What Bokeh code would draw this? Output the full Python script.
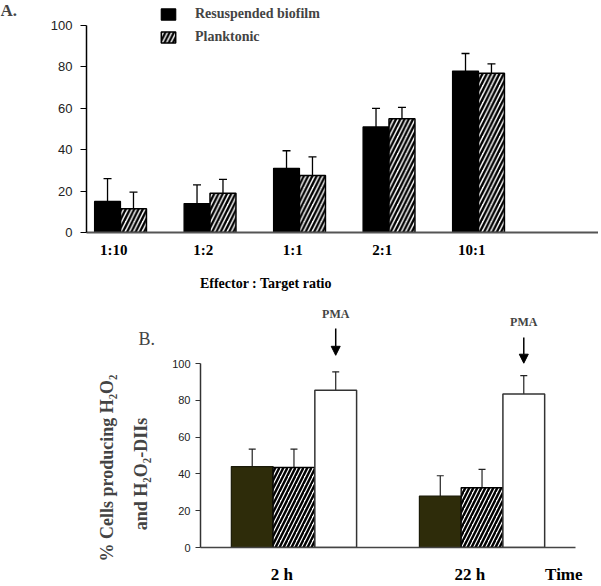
import numpy as np
from bokeh.plotting import figure
from bokeh.models import (Range1d, FixedTicker, Whisker, ColumnDataSource, Label,
                          Arrow, NormalHead, Legend, LegendItem, TeeHead, LinearAxis)
from bokeh.layouts import column, row
from bokeh.embed import file_html
from bokeh.resources import INLINE

# ---------------- data ----------------
ratios = ["1:10", "1:2", "1:1", "2:1", "10:1"]
biofilm = [15, 14, 31, 51, 78]
biofilm_err = [11, 9, 8.5, 9, 8.5]
planktonic = [11.5, 19, 27.5, 55, 77]
planktonic_err = [8, 6.7, 9, 5.5, 4.5]

times = ["2 h", "22 h"]
b_dark = [44, 28]
b_dark_err = [9.5, 11]
b_hatch = [43.5, 32.5]
b_hatch_err = [10, 10]
b_pma = [85.5, 83.5]
b_pma_err = [10, 10]
pma_label = ["PMA", "PMA"]
pma_text_y = [127.2, 122.4]
pma_arrow_from = [119.1, 114.2]
pma_arrow_to = [104.5, 100.2]

SERIF = "Liberation Serif"
SANS = "Liberation Sans"


def text_panel(w, h):
    f = figure(width=w, height=h, output_backend="svg", toolbar_location=None,
               x_range=Range1d(0, w), y_range=Range1d(0, h),
               x_axis_location=None, y_axis_location=None,
               min_border=0, min_border_left=0, min_border_right=0,
               min_border_top=0, min_border_bottom=0)
    f.frame_align = False
    f.outline_line_color = None
    f.grid.visible = False
    return f


# ---------------- panel A ----------------
HA = 300
aText = text_panel(40, HA)
aText.add_layout(Label(x=0, y=HA - 10, text="A.", text_align="left",
                       text_baseline="middle", text_font=SERIF,
                       text_font_style="bold", text_font_size="17px"))

xa = np.arange(len(ratios))
off_a = 0.075
bw_a = 0.29
pA = figure(width=558, height=HA, output_backend="svg", toolbar_location=None,
            x_range=Range1d(-0.305, 5.416), y_range=Range1d(0, 112.1),
            min_border_left=46, min_border_right=0, min_border_top=0,
            min_border_bottom=68)
pA.frame_align = False
pA.outline_line_color = None
pA.grid.visible = False

rA1 = pA.vbar(x=xa + off_a - bw_a / 2, top=biofilm, width=bw_a,
              fill_color="black", line_color="black", line_width=1.2)
rA2 = pA.vbar(x=xa + off_a + bw_a / 2, top=planktonic, width=bw_a,
              fill_color="white", line_color="black", line_width=1.5,
              hatch_pattern="/", hatch_color="black", hatch_scale=8.5,
              hatch_weight=2.4)

for xs, vals, errs in [(xa + off_a - bw_a / 2, biofilm, biofilm_err),
                       (xa + off_a + bw_a / 2, planktonic, planktonic_err)]:
    src = ColumnDataSource(dict(x=list(xs),
                                upper=[v + e for v, e in zip(vals, errs)],
                                lower=[v - e for v, e in zip(vals, errs)]))
    pA.add_layout(Whisker(source=src, base="x", upper="upper", lower="lower",
                          line_color="black", line_width=1.3,
                          upper_head=TeeHead(size=8, line_width=1.3, line_color="black"),
                          lower_head=TeeHead(size=8, line_width=1.3, line_color="black")))

pA.yaxis.ticker = FixedTicker(ticks=[0, 20, 40, 60, 80, 100])
pA.yaxis.bounds = (0, 100)
pA.yaxis.axis_line_color = "black"
pA.yaxis.axis_line_width = 1.5
pA.yaxis.major_tick_line_color = "black"
pA.yaxis.major_tick_out = 6
pA.yaxis.major_tick_in = 0
pA.yaxis.minor_tick_line_color = None
pA.yaxis.major_label_standoff = 8
pA.yaxis.major_label_text_font = SANS
pA.yaxis.major_label_text_font_size = "13px"
pA.yaxis.major_label_text_color = "#222222"

pA.xaxis.ticker = FixedTicker(ticks=list(xa))
pA.xaxis.major_label_overrides = {int(i): r for i, r in zip(xa, ratios)}
pA.xaxis.axis_line_color = "#555555"
pA.xaxis.axis_line_width = 2
pA.xaxis.major_tick_line_color = None
pA.xaxis.major_tick_out = 0
pA.xaxis.major_tick_in = 0
pA.xaxis.minor_tick_line_color = None
pA.xaxis.minor_tick_out = 0
pA.xaxis.major_label_standoff = 9
pA.xaxis.major_label_text_font = SERIF
pA.xaxis.major_label_text_font_style = "bold"
pA.xaxis.major_label_text_font_size = "15px"
pA.xaxis.major_label_text_color = "black"

# label-only axis carrying the x-axis title
xtitle_a = LinearAxis(ticker=FixedTicker(ticks=[1.7]),
                      major_label_overrides={1.7: "Effector : Target ratio"},
                      axis_line_color=None, major_tick_line_color=None,
                      major_tick_out=0, major_tick_in=0,
                      minor_tick_line_color=None, minor_tick_out=0,
                      major_label_standoff=15,
                      major_label_text_font=SERIF, major_label_text_font_style="bold",
                      major_label_text_font_size="14px", major_label_text_color="black")
pA.add_layout(xtitle_a, "below")

legend = Legend(items=[LegendItem(label="Resuspended biofilm", renderers=[rA1]),
                       LegendItem(label="Planktonic", renderers=[rA2])],
                location=(73, 187), glyph_width=18, glyph_height=14,
                label_standoff=18, spacing=7, padding=0, margin=0,
                border_line_color=None, background_fill_alpha=0,
                label_text_font=SERIF, label_text_font_style="bold",
                label_text_font_size="14px", label_height=14)
pA.add_layout(legend)

# ---------------- panel B ----------------
HB = 286
bText = text_panel(160, HB)
bText.add_layout(Label(x=138, y=HB - 38, text="B.", text_align="left",
                       text_baseline="middle", text_font=SERIF,
                       text_font_size="18px"))
bText.add_layout(Label(x=106, y=HB - 167.5, text="% Cells producing H₂O₂",
                       angle=np.pi / 2, text_align="center", text_baseline="middle",
                       text_font=SERIF, text_font_style="bold", text_font_size="18px"))
bText.add_layout(Label(x=140, y=HB - 173.5, text="and H₂O₂-DIIs",
                       angle=np.pi / 2, text_align="center", text_baseline="middle",
                       text_font=SERIF, text_font_style="bold", text_font_size="18px"))

xb = np.arange(len(times))
off_b = 0.065
bw_b = 0.222
pB = figure(width=438, height=HB, output_backend="svg", toolbar_location=None,
            x_range=Range1d(-0.432, 1.562), y_range=Range1d(0, 134.3),
            min_border_left=40, min_border_right=23, min_border_top=0,
            min_border_bottom=38)
pB.frame_align = False
pB.outline_line_color = None
pB.grid.visible = False

dark_x = xb + off_b - bw_b
hatch_x = xb + off_b
pma_x = xb + off_b + bw_b
pB.vbar(x=dark_x, top=b_dark, width=bw_b, fill_color="#2e2c0a",
        line_color="#1a1a08", line_width=1.2)
pB.vbar(x=hatch_x, top=b_hatch, width=bw_b, fill_color="white",
        line_color="black", line_width=1.3, hatch_pattern="/", hatch_color="black",
        hatch_scale=8, hatch_weight=2.4)
pB.vbar(x=pma_x, top=b_pma, width=bw_b, fill_color="white",
        line_color="#333333", line_width=1.5)

for xs, vals, errs in [(dark_x, b_dark, b_dark_err), (hatch_x, b_hatch, b_hatch_err),
                       (pma_x, b_pma, b_pma_err)]:
    src = ColumnDataSource(dict(x=list(xs),
                                upper=[v + e for v, e in zip(vals, errs)],
                                lower=[v - e for v, e in zip(vals, errs)]))
    pB.add_layout(Whisker(source=src, base="x", upper="upper", lower="lower",
                          line_color="#222222", line_width=1.2,
                          upper_head=TeeHead(size=7, line_width=1.2, line_color="#222222"),
                          lower_head=TeeHead(size=7, line_width=1.2, line_color="#222222")))

arr_src = ColumnDataSource(dict(x0=list(pma_x), y0=pma_arrow_from,
                                x1=list(pma_x), y1=pma_arrow_to))
pB.add_layout(Arrow(source=arr_src, x_start="x0", y_start="y0", x_end="x1",
                    y_end="y1", line_width=1.5, line_color="black",
                    end=NormalHead(size=9, fill_color="black", line_color="black")))
for xv, yv, t in zip(pma_x, pma_text_y, pma_label):
    pB.add_layout(Label(x=float(xv), y=yv, text=t, text_align="center",
                        text_baseline="middle", text_font=SERIF,
                        text_font_style="bold", text_font_size="12px"))

pB.yaxis.ticker = FixedTicker(ticks=[0, 20, 40, 60, 80, 100])
pB.yaxis.bounds = (0, 100)
pB.yaxis.axis_line_color = "#333333"
pB.yaxis.axis_line_width = 1.5
pB.yaxis.major_tick_line_color = "#333333"
pB.yaxis.major_tick_out = 5
pB.yaxis.major_tick_in = 0
pB.yaxis.minor_tick_line_color = None
pB.yaxis.major_label_standoff = 5
pB.yaxis.major_label_text_font = SANS
pB.yaxis.major_label_text_font_size = "11px"
pB.yaxis.major_label_text_color = "#222222"

pB.xaxis.ticker = FixedTicker(ticks=list(xb) + [1.5])
overrides_b = {int(i): t for i, t in zip(xb, times)}
overrides_b[1.5] = "Time"
pB.xaxis.major_label_overrides = overrides_b
pB.xaxis.axis_line_color = "#444444"
pB.xaxis.axis_line_width = 1.5
pB.xaxis.major_tick_line_color = None
pB.xaxis.major_tick_out = 0
pB.xaxis.major_tick_in = 0
pB.xaxis.minor_tick_line_color = None
pB.xaxis.minor_tick_out = 0
pB.xaxis.major_label_standoff = 17
pB.xaxis.major_label_text_font = SERIF
pB.xaxis.major_label_text_font_style = "bold"
pB.xaxis.major_label_text_font_size = "17px"
pB.xaxis.major_label_text_color = "black"

layout = column(row(aText, pA, spacing=0), row(bText, pB, spacing=0), spacing=0)
open("out.html", "w").write(file_html(layout, INLINE))
